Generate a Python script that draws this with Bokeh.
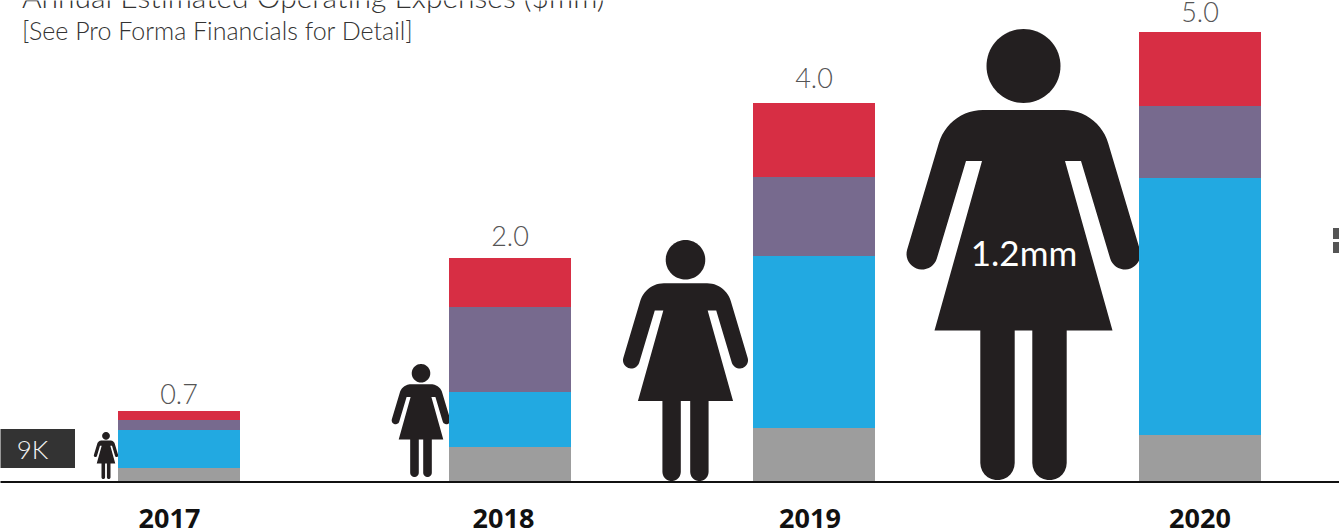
import numpy as np
from bokeh.plotting import figure
from bokeh.models import Range1d, ColumnDataSource
from bokeh.core.properties import value
from bokeh.embed import file_html
from bokeh.resources import INLINE

# ---- data ----
years = ["2017", "2018", "2019", "2020"]
totals = ["0.7", "2.0", "4.0", "5.0"]
bar_centres = [179, 510, 814, 1200]
# segment heights in picture scale (the bars are not drawn to the labelled scale)
grey = [13, 34, 54, 46]
blue = [38, 55, 172, 257]
purple = [10, 85, 79, 72]
red = [9, 49, 74, 74]
bar_floor = [0, 0, -1, 0]

people_x = [106, 421, 685.5, 1023.5]
people_h = [47, 113, 241, 451]
people_floor = [2, 4, 0, 1]
people_labels = ["9K", "1.2mm"]

title = "Annual Estimated Operating Expenses ($mm)"
subtitle = "[See Pro Forma Financials for Detail]"

C_RED, C_PURPLE, C_BLUE, C_GREY = "#D72E44", "#776A8E", "#22A9E1", "#9D9D9D"
C_ICON = "#231F20"

# layout of labels
year_x = [169.5, 503.5, 810, 1200]
total_gap = [6, 11, 14, 9]
BASE_FIX = 0.4  # em, this renderer's distance from anchor to drawn baseline


def arc(cx, cy, r, a0, a1, n=24):
    a = np.radians(np.linspace(a0, a1, n))
    return list(cx + r * np.cos(a)), list(cy + r * np.sin(a))


def person_outline():
    """Unit pictogram: x from centre, y from the feet, total height 451."""
    xs, ys = [], []

    def add(x, y):
        xs.extend(x if isinstance(x, list) else [x])
        ys.extend(y if isinstance(y, list) else [y])

    add(*arc(-40.5, 324, 46, 90, 164, 14))  # left shoulder
    add(*arc(-101.5, 226, 15.5, 164, 343, 20))  # left hand
    add(-57.5, 319)  # left armpit
    add(-41.5, 319)
    add(-89, 149.5)  # skirt left
    add(-43.2, 149.5)
    add(*arc(-26, 17, 17.2, 180, 360, 14))  # left leg
    add(-8.8, 149.5)
    add(8.8, 149.5)
    add(*arc(26, 17, 17.2, 180, 360, 14))  # right leg
    add(43.2, 149.5)
    add(89, 149.5)
    add(41.5, 319)
    add(57.5, 319)
    add(*arc(101.5, 226, 15.5, 197, 376, 20))  # right hand
    add(*arc(40.5, 324, 46, 16, 90, 14))  # right shoulder
    return np.array(xs), np.array(ys)


# ranges are offset by half a pixel so that whole-number edges land crisply on the pixel grid
p = figure(
    width=1339, height=530, output_backend="svg", toolbar_location=None,
    x_range=Range1d(0.5, 1339.5), y_range=Range1d(-49.5, 480.5),
    x_axis_type=None, y_axis_type=None, min_border=0,
    background_fill_color="white", border_fill_color="white",
    outline_line_color=None,
)
p.grid.visible = False

ox, oy = person_outline()
head_a = np.radians(np.linspace(0, 360, 73))
for cx, h, fl in zip(people_x, people_h, people_floor):
    k = h / 451
    p.patch(list(cx + ox * k), list(fl + oy * k), fill_color=C_ICON, line_color=None)
    p.patch(list(cx + 37 * k * np.cos(head_a)), list(fl + (414 + 37 * np.sin(head_a)) * k),
            fill_color=C_ICON, line_color=None)

# stacked bars
base = np.array(bar_floor, dtype=float)
for vals, col in [(grey, C_GREY), (blue, C_BLUE), (purple, C_PURPLE), (red, C_RED)]:
    top = base + np.array(vals)
    src = ColumnDataSource(dict(x=bar_centres, b=list(base), t=list(top)))
    p.vbar(x="x", bottom="b", top="t", width=122, fill_color=col, line_color=None, source=src)
    base = top

p.line([-2, 1341], [-1, -1], line_color="#111111", line_width=2)


def label(x, y, txt, font, size, color, align="left", style="normal"):
    """y = wanted baseline in data units."""
    p.text(x, [v + BASE_FIX * size for v in y], text=txt, text_font=value(font),
           text_font_size=f"{size}px", text_font_style=style, text_color=color,
           text_align=align, text_baseline="alphabetic")


LIGHT = "Lato Light"
label(bar_centres, list(base + np.array(total_gap)), totals, LIGHT, 27, "#555555", "center")
label(year_x, [-48] * 4, years, "Noto Sans", 27, "#111111", "center", "bold")
label([22], [473], [title], LIGHT, 30, "#333333")
label([22], [441], [subtitle], LIGHT, 25, "#333333")

p.quad(left=[-2], right=[75], bottom=[13], top=[52], fill_color="#333333", line_color=None)
label([32.5], [22], [people_labels[0]], LIGHT, 26, "#F2F2F2", "center")
label([1024], [215], [people_labels[1]], "Lato", 35, "white", "center")

p.quad(left=[1333, 1333], right=[1341, 1341], bottom=[242, 228], top=[253, 239],
       fill_color="#555555", line_color=None)

open("out.html", "w").write(file_html(p, INLINE))
